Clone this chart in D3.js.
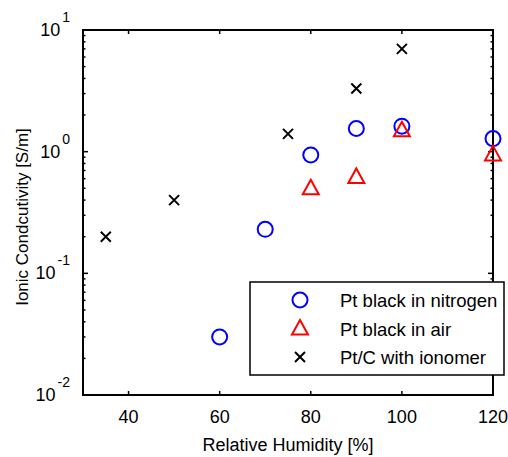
<!DOCTYPE html>
<html>
<head>
<meta charset="utf-8">
<script src="https://cdn.jsdelivr.net/npm/d3@7"></script>
<style>
  body { margin: 0; background: #fff; }
  text { font-family: "Liberation Sans", Arial, sans-serif; }
</style>
</head>
<body>
<div id="chart"></div>
<script>
// data
var nitrogenRH = [60, 70, 80, 90, 100, 120];
var nitrogenS = [0.030, 0.23, 0.94, 1.55, 1.62, 1.28];
var airRH = [80, 90, 100, 120];
var airS = [0.50, 0.62, 1.50, 0.95];
var ionomerRH = [35, 50, 75, 90, 100];
var ionomerS = [0.20, 0.40, 1.40, 3.30, 7.0];
var xTicks = [40, 60, 80, 100, 120];
var yTicks = [1e-2, 1e-1, 1e0, 1e1];
var seriesNames = ["Pt black in nitrogen", "Pt black in air", "Pt/C with ionomer"];

var width = 508, height = 457;
var margin = {top: 30, right: 15, bottom: 62, left: 83};

var svg = d3.select("#chart").append("svg")
    .attr("width", width)
    .attr("height", height);

var w = width - margin.left - margin.right;
var h = height - margin.top - margin.bottom;

var g = svg.append("g")
    .attr("transform", "translate(" + margin.left + "," + margin.top + ")");

var x = d3.scaleLinear().domain([30, 120]).range([0, w]);
var y = d3.scaleLog().domain([0.01, 10]).range([h, 0]);

// minor ticks for log axis
var minor = [];
[0.01, 0.1, 1].forEach(function(d) {
    for (var k = 2; k <= 9; k++) minor.push(d * k);
});

var tickLen = 4;
var axes = g.append("g").attr("stroke", "#000");

// x ticks bottom and top
xTicks.forEach(function(t) {
    axes.append("line").attr("x1", x(t)).attr("x2", x(t)).attr("y1", h).attr("y2", h - tickLen).attr("stroke-width", 1.5);
    axes.append("line").attr("x1", x(t)).attr("x2", x(t)).attr("y1", 0).attr("y2", tickLen).attr("stroke-width", 1.5);
});
// y major ticks left and right
yTicks.forEach(function(t) {
    axes.append("line").attr("x1", 0).attr("x2", tickLen + 1).attr("y1", y(t)).attr("y2", y(t)).attr("stroke-width", 1.5);
    axes.append("line").attr("x1", w).attr("x2", w - tickLen - 1).attr("y1", y(t)).attr("y2", y(t)).attr("stroke-width", 1.5);
});
minor.forEach(function(t) {
    axes.append("line").attr("x1", 0).attr("x2", 2.5).attr("y1", y(t)).attr("y2", y(t)).attr("stroke-width", 1.5);
    axes.append("line").attr("x1", w).attr("x2", w - 2.5).attr("y1", y(t)).attr("y2", y(t)).attr("stroke-width", 1.5);
});

g.append("rect")
    .attr("width", w).attr("height", h)
    .attr("fill", "none").attr("stroke", "#000").attr("stroke-width", 2);

// tick labels
g.selectAll(".xlab").data(xTicks).enter().append("text")
    .attr("class", "xlab")
    .attr("x", function(d) { return x(d); })
    .attr("y", h + 28)
    .attr("text-anchor", "middle")
    .attr("font-size", 18)
    .text(function(d) { return d; });

var ylab = g.selectAll(".ylab").data(yTicks).enter().append("text")
    .attr("class", "ylab")
    .attr("x", -13)
    .attr("y", function(d) { return y(d) + 6; })
    .attr("text-anchor", "end")
    .attr("font-size", 18);
ylab.append("tspan").text("10");
ylab.append("tspan")
    .attr("dx", 2)
    .attr("dy", -14)
    .attr("font-size", 14)
    .text(function(d) { return Math.round(Math.log10(d)); });

// axis titles
svg.append("text")
    .attr("x", margin.left + w / 2)
    .attr("y", height - 6)
    .attr("text-anchor", "middle")
    .attr("font-size", 18)
    .text("Relative Humidity [%]");

svg.append("text")
    .attr("transform", "translate(28,217) rotate(-90)")
    .attr("text-anchor", "middle")
    .attr("font-size", 17)
    .text("Ionic Condcutivity [S/m]");

// markers
var triangle = "M0,-8.5L8,6L-8,6Z";
function drawCircle(sel) {
    sel.append("circle").attr("r", 7.5).attr("fill", "none").attr("stroke", "#0000ff").attr("stroke-width", 2);
}
function drawTriangle(sel) {
    sel.append("path").attr("d", triangle).attr("fill", "none").attr("stroke", "#ff0000").attr("stroke-width", 2);
}
function drawCross(sel) {
    sel.append("path").attr("d", "M-5,-5L5,5M-5,5L5,-5").attr("stroke", "#000").attr("stroke-width", 2);
}

var pts = g.append("g");
pts.selectAll(".ion").data(ionomerRH).enter().append("g")
    .attr("transform", function(d, i) { return "translate(" + x(d) + "," + y(ionomerS[i]) + ")"; })
    .call(drawCross);
pts.selectAll(".nit").data(nitrogenRH).enter().append("g")
    .attr("transform", function(d, i) { return "translate(" + x(d) + "," + y(nitrogenS[i]) + ")"; })
    .call(drawCircle);
pts.selectAll(".air").data(airRH).enter().append("g")
    .attr("transform", function(d, i) { return "translate(" + x(d) + "," + y(airS[i]) + ")"; })
    .call(drawTriangle);

// legend
var legend = svg.append("g").attr("transform", "translate(250,282)");
legend.append("rect")
    .attr("width", 254).attr("height", 93)
    .attr("fill", "#fff").attr("stroke", "#000").attr("stroke-width", 1.5);
var drawers = [drawCircle, drawTriangle, drawCross];
seriesNames.forEach(function(name, i) {
    var row = legend.append("g").attr("transform", "translate(0," + (18 + i * 28.5) + ")");
    row.append("g").attr("transform", "translate(50,0)").call(drawers[i]);
    row.append("text")
        .attr("x", 90).attr("y", 7)
        .attr("font-size", 18.5)
        .text(name);
});
</script>
</body>
</html>
